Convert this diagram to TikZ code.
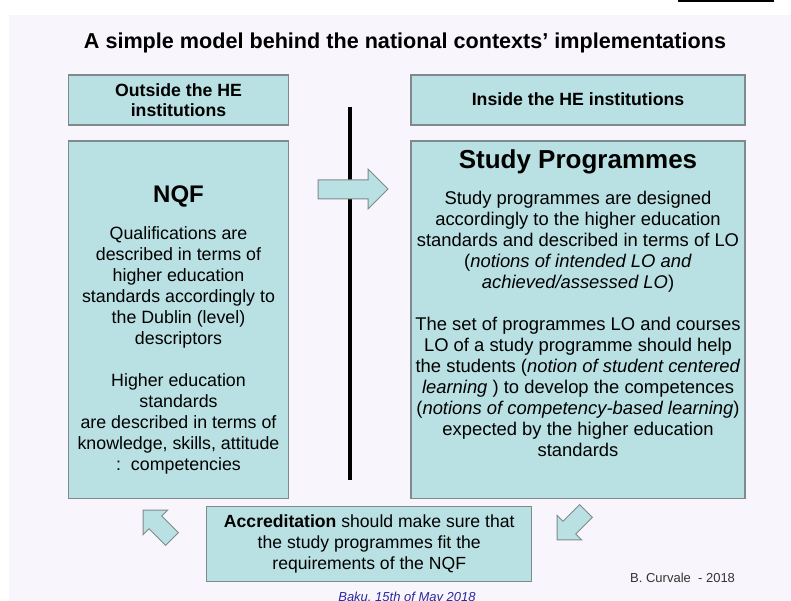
\documentclass[tikz,border=0pt]{standalone}
\usepackage{fontspec}
\setmainfont{Liberation Sans}

\definecolor{panelfill}{RGB}{185,224,226}
\definecolor{panelborder}{RGB}{128,138,140}
\definecolor{slidebg}{RGB}{248,246,252}
\definecolor{bakublue}{RGB}{40,40,160}

\tikzset{
  panel/.style={draw=panelborder, line width=1.1pt, fill=panelfill, inner sep=0pt},
  bodytext/.style={align=center, inner sep=0pt, anchor=base, font=\fontsize{17.8}{21}\selectfont},
  headtext/.style={align=center, inner sep=0pt, anchor=base, font=\bfseries\fontsize{17.7}{20}\selectfont},
  bigtitle/.style={inner sep=0pt, anchor=base, font=\bfseries\fontsize{26}{30}\selectfont},
  blockarrow/.style={draw=panelborder, fill=panelfill, line width=1pt, line join=miter}
}

\begin{document}
\begin{tikzpicture}[x=1pt,y=-1pt]

% Page and slide background
\useasboundingbox (0,0) rectangle (791,601);
\fill[slidebg] (9,15) rectangle (791,601);
\fill[black] (678,0) rectangle (774,2.2);

% Title
\node[inner sep=0pt, anchor=base, font=\bfseries\fontsize{21.6}{25}\selectfont] (title) at (405,48.5)
  {A simple model behind the national contexts' implementations};

% Header boxes (base of a multi-line node = its last line)
\node[panel, minimum width=219.5pt, minimum height=50pt] (outside) at (178.5,100) {};
\node[panel, minimum width=334pt, minimum height=50pt] (inside) at (578,100) {};
\node[headtext] (outsidetext) at (178.5,116.7) {Outside the HE\\ institutions};
\node[headtext] (insidetext) at (578,106) {Inside the HE institutions};

% Main boxes
\node[panel, minimum width=219.5pt, minimum height=357.5pt] (nqf) at (178.5,319.75) {};
\node[panel, minimum width=334pt, minimum height=357.5pt] (study) at (578,319.75) {};

% NQF box text
\node[bigtitle, font=\bfseries\fontsize{24}{29}\selectfont] (nqftitle) at (178.5,203) {NQF};
\node[bodytext] (nqftext) at (178.5,470) {Qualifications are\\ described in terms of\\ higher education\\
  standards accordingly to\\ the Dublin (level)\\ descriptors\\[21pt]
  Higher education\\ standards\\ are described in terms of\\ knowledge, skills, attitude\\ :\ \ competencies};

% Study programmes box text
\node[bigtitle] (studytitle) at (578,169) {Study Programmes};
\node[bodytext, font=\fontsize{18.4}{21}\selectfont] (studytext) at (578,456) {Study programmes are designed\\
  accordingly to the higher education\\ standards and described in terms of LO\\
  (\textit{notions of intended LO and}\\ \textit{achieved/assessed LO})\\[21pt]
  The set of programmes LO and courses\\ LO of a study programme should help\\
  the students (\textit{notion of student centered}\\ \textit{learning} ) to develop the competences\\
  (\textit{notions of competency-based learning})\\ expected by the higher education\\ standards};

% Accreditation box
\node[panel, minimum width=325pt, minimum height=75pt] (accred) at (369.25,544.25) {};
\node[bodytext, font=\fontsize{17.6}{21}\selectfont] (accredtext) at (369.25,569) {\textbf{Accreditation} should make sure that\\
  the study programmes fit the\\ requirements of the NQF};

% Dividing line
\coordinate (divtop) at (350,107);
\coordinate (divbot) at (350,480);
\draw[line width=3.6pt] (divtop) -- (divbot);

% Block arrows
\draw[blockarrow] (318,180) -- (368,180) -- (368,169) -- (388,189) -- (368,209) -- (368,199) -- (318,199) -- cycle;
\begin{scope}[shift={(172,539)}, rotate=135]
  \draw[blockarrow] (0,9) -- (23.5,9) -- (23.5,17.5) -- (41,0) -- (23.5,-17.5) -- (23.5,-9) -- (0,-9) -- cycle;
\end{scope}
\begin{scope}[shift={(586,511)}, rotate=225]
  \draw[blockarrow] (0,9) -- (23.5,9) -- (23.5,17.5) -- (41,0) -- (23.5,-17.5) -- (23.5,-9) -- (0,-9) -- cycle;
\end{scope}

% Footer
\node[inner sep=0pt, anchor=base west, font=\fontsize{13}{15}\selectfont, text=black!80] (author) at (630,582) {B. Curvale\ \ - 2018};
\node[inner sep=0pt, anchor=base, font=\itshape\fontsize{13}{15}\selectfont, text=bakublue] (place) at (407,601) {Baku, 15th of May 2018};

\end{tikzpicture}
\end{document}
